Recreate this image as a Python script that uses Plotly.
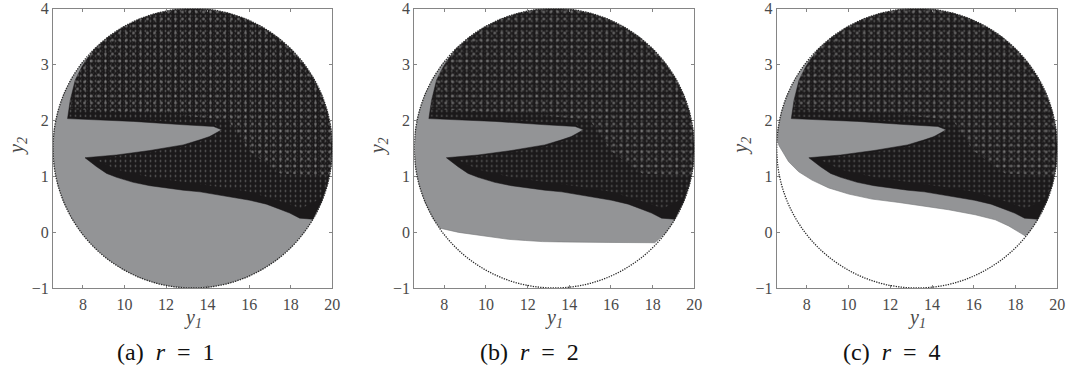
import plotly.graph_objects as go

W, H = 1074, 383
FONT = "Liberation Serif"
TEXT = "#4a4a4a"
BOX = "#858585"
GREY = "#939496"
DARK = "#1b191a"

X_TICKS = [8, 10, 12, 14, 16, 18, 20]
Y_TICKS = [-1, 0, 1, 2, 3, 4]
X_RANGE = [6.56, 20]
Y_RANGE = [-1, 4]
X_TITLE = "<i>y</i><sub><i>1</i></sub>"
Y_TITLE = "<i>y</i><sub><i>2</i></sub>"
CAPTIONS = ["(a)&nbsp;&nbsp;<i>r</i>&nbsp;&nbsp;=&nbsp;&nbsp;1", "(b)&nbsp;&nbsp;<i>r</i>&nbsp;&nbsp;=&nbsp;&nbsp;2",
            "(c)&nbsp;&nbsp;<i>r</i>&nbsp;&nbsp;=&nbsp;&nbsp;4"]
CAPTION_CENTRES = [166, 529.5, 892]

# Upper (speckled) region, the same in the three panels
DARK_X = [7.26, 7.39, 7.63, 7.95, 8.25, 8.53, 9.19, 9.92, 10.71, 11.54, 12.40, 13.28, 14.16, 15.02, 15.85,
          16.64, 17.37, 18.03, 18.61, 19.10, 19.49, 19.77, 19.94, 20.0, 19.94, 19.77, 19.49, 19.07,
          18.43, 17.95, 17.47, 16.83, 16.03, 14.75, 13.63, 12.82, 12.03, 11.22, 10.42, 9.62, 9.14, 8.66, 8.10,
          9.62, 11.22, 12.82, 13.63, 14.1, 14.68, 14.28, 12.84, 10.44, 7.26]
DARK_Y = [2.03, 2.36, 2.72, 2.96, 3.13, 3.268, 3.484, 3.665, 3.81, 3.915, 3.979, 4.0, 3.979, 3.915, 3.81,
          3.665, 3.484, 3.268, 3.022, 2.75, 2.457, 2.147, 1.826, 1.5, 1.174, 0.853, 0.543, 0.23,
          0.25, 0.34, 0.41, 0.50, 0.57, 0.65, 0.72, 0.75, 0.79, 0.83, 0.89, 0.98, 1.05, 1.17, 1.33,
          1.38, 1.46, 1.56, 1.65, 1.71, 1.83, 1.89, 1.92, 1.98, 2.03]

# Part of that region where the white specks show: sparse everywhere...
SPECK_X = [7.32, 7.39, 7.63, 7.95, 8.25, 8.53, 9.19, 9.92, 10.71, 11.54, 12.40, 13.28, 14.16, 15.02, 15.85,
           16.64, 17.37, 18.03, 18.61, 19.10, 19.49, 19.77, 19.94, 20.0, 19.94, 19.77, 19.45,
           18.5, 17.5, 16.0, 14.75, 12.82, 11.22, 9.62, 8.7, 9.62, 11.22, 12.82, 13.63, 14.1, 14.68, 14.28, 12.84, 10.44, 7.32]
SPECK_Y = [2.07, 2.36, 2.72, 2.96, 3.13, 3.268, 3.484, 3.665, 3.81, 3.915, 3.979, 4.0, 3.979, 3.915, 3.81,
           3.665, 3.484, 3.268, 3.022, 2.75, 2.457, 2.147, 1.826, 1.5, 1.174, 0.853, 0.6,
           0.42, 0.55, 0.72, 0.80, 0.9, 0.98, 1.12, 1.28, 1.36, 1.43, 1.53, 1.62, 1.69, 1.83, 1.93, 1.96, 2.02, 2.07]

# ...and denser in the upper part
DENSE_X = [7.4, 7.63, 7.95, 8.25, 8.53, 9.19, 9.92, 10.71, 11.54, 12.40, 13.28, 14.16, 15.02, 15.85,
           16.64, 17.37, 18.03, 18.61, 19.10, 19.49, 19.77, 19.94, 20.0, 19.94, 19.85, 17.5, 16.0, 15.0, 12.0, 7.4]
DENSE_Y = [2.2, 2.72, 2.96, 3.13, 3.268, 3.484, 3.665, 3.81, 3.915, 3.979, 4.0, 3.979, 3.915, 3.81,
           3.665, 3.484, 3.268, 3.022, 2.75, 2.457, 2.147, 1.826, 1.5, 1.174, 1.0, 1.05, 1.45, 2.0, 2.12, 2.2]

# Grey region of each panel
GREY_A_X = [8.25, 7.95, 7.46, 7.07, 6.79, 6.62, 6.56, 6.62, 6.79, 7.07, 7.46, 7.95, 8.53, 9.19, 9.92, 10.71,
            11.54, 12.40, 13.28, 14.16, 15.02, 15.85, 16.64, 17.37, 18.03, 18.61, 19.07, 15.0]
GREY_A_Y = [3.13, 3.022, 2.75, 2.457, 2.147, 1.826, 1.5, 1.174, 0.853, 0.543, 0.25, -0.022, -0.268, -0.484,
            -0.665, -0.81, -0.915, -0.979, -1.0, -0.979, -0.915, -0.81, -0.665, -0.484, -0.268, -0.022, 0.23, 1.95]
GREY_B_X = [8.25, 7.95, 7.46, 7.07, 6.79, 6.62, 6.56, 6.62, 6.79, 7.07, 7.46, 7.8, 8.69, 9.49, 10.29, 11.09, 11.89,
            12.7, 13.5, 14.3, 15.9, 18.1, 18.61, 19.07, 15.0]
GREY_B_Y = [3.13, 3.022, 2.75, 2.457, 2.147, 1.826, 1.5, 1.174, 0.853, 0.543, 0.25, 0.07, -0.005, -0.05, -0.09,
            -0.13, -0.15, -0.17, -0.175, -0.18, -0.185, -0.19, -0.022, 0.23, 1.95]
GREY_C_X = [8.25, 7.95, 7.46, 7.07, 6.79, 6.62, 6.6, 6.68, 7.13, 7.61, 8.25, 9.05, 10.01, 11.13, 12.41, 13.19, 14.79,
            16.07, 17.03, 17.67, 18.15, 18.47, 18.61, 19.07, 15.0]
GREY_C_Y = [3.13, 3.022, 2.75, 2.457, 2.147, 1.826, 1.62, 1.54, 1.26, 1.08, 0.93, 0.79, 0.68, 0.59, 0.53, 0.49, 0.40,
            0.31, 0.22, 0.11, 0.01, -0.07, -0.022, 0.23, 1.95]

PANELS = [
    (GREY_A_X, GREY_A_Y, 53.0, 332.3),
    (GREY_B_X, GREY_B_Y, 414.3, 694.3),
    (GREY_C_X, GREY_C_Y, 776.7, 1057.3),
]
TOP, BOTTOM = 8.5, 288.0

fig = go.Figure()
shapes, annotations = [], []
for i, (gx, gy, left, right) in enumerate(PANELS):
    n = "" if i == 0 else str(i + 1)
    xa, ya = "x" + n, "y" + n
    common = dict(xaxis=xa, yaxis=ya, mode="lines", hoverinfo="skip", showlegend=False, fill="toself")
    fig.add_trace(go.Scatter(x=gx, y=gy, fillcolor=GREY, line=dict(color="#77787a", width=0.6), **common))
    fig.add_trace(go.Scatter(x=DARK_X, y=DARK_Y, fillcolor=DARK, line=dict(color=DARK, width=0.5), **common))
    layers = [(SPECK_X, SPECK_Y, 5, 0.10, "#a8a8a8"), (DENSE_X, DENSE_Y, 7, 0.11, "#c4c4c4"),
              (DENSE_X, DENSE_Y, 3, 0.06, "#707070")]
    for px, py, size, sol, col in layers:
        fig.add_trace(go.Scatter(
            x=px, y=py, fillcolor="rgba(0,0,0,0)", line=dict(width=0),
            fillpattern=dict(shape=".", size=size, solidity=sol, fgcolor=col, bgcolor="rgba(0,0,0,0)"),
            **common))

    axis = dict(
        showgrid=False, zeroline=False, showline=True, linecolor=BOX, linewidth=1, mirror="ticks",
        ticks="inside", ticklen=3, tickcolor=BOX, tickwidth=1, ticklabeloverflow="allow", automargin=False,
        tickfont=dict(family=FONT, size=16, color=TEXT),
    )
    fig.update_layout({
        ("xaxis" + n): dict(axis, domain=[left / W, right / W], range=X_RANGE, tickmode="array",
                            tickvals=X_TICKS, anchor=ya, ticklabelstandoff=2),
        ("yaxis" + n): dict(axis, domain=[1 - BOTTOM / H, 1 - TOP / H], range=Y_RANGE, tickmode="array",
                            tickvals=Y_TICKS, anchor=xa),
    })
    shapes.append(dict(type="circle", xref=xa, yref=ya, x0=X_RANGE[0], x1=X_RANGE[1], y0=Y_RANGE[0], y1=Y_RANGE[1],
                       line=dict(color="#2a2a2a", width=1.3, dash="1.3px,1.2px"), layer="above"))
    title_font = dict(family=FONT, size=20, color=TEXT)
    annotations.append(dict(text=X_TITLE, xref="paper", yref="paper", x=(left + right) / 2 / W, y=1 - 318 / H,
                            xanchor="center", yanchor="middle", showarrow=False, font=title_font))
    annotations.append(dict(text=Y_TITLE, xref="paper", yref="paper", x=(left - 36) / W, y=1 - 146 / H,
                            xanchor="center", yanchor="middle", showarrow=False, textangle=-90, font=title_font))
    annotations.append(dict(text=CAPTIONS[i], xref="paper", yref="paper", x=CAPTION_CENTRES[i] / W, y=1 - 352 / H,
                            xanchor="center", yanchor="middle", showarrow=False,
                            font=dict(family=FONT, size=24, color="#111111")))

fig.update_layout(
    width=W, height=H, autosize=False, margin=dict(l=0, r=0, t=0, b=0),
    paper_bgcolor="white", plot_bgcolor="white", shapes=shapes, annotations=annotations,
)
fig.write_html("out.html", config=dict(displayModeBar=False),
               post_script="document.body.style.margin='0';document.body.style.overflow='hidden';")
